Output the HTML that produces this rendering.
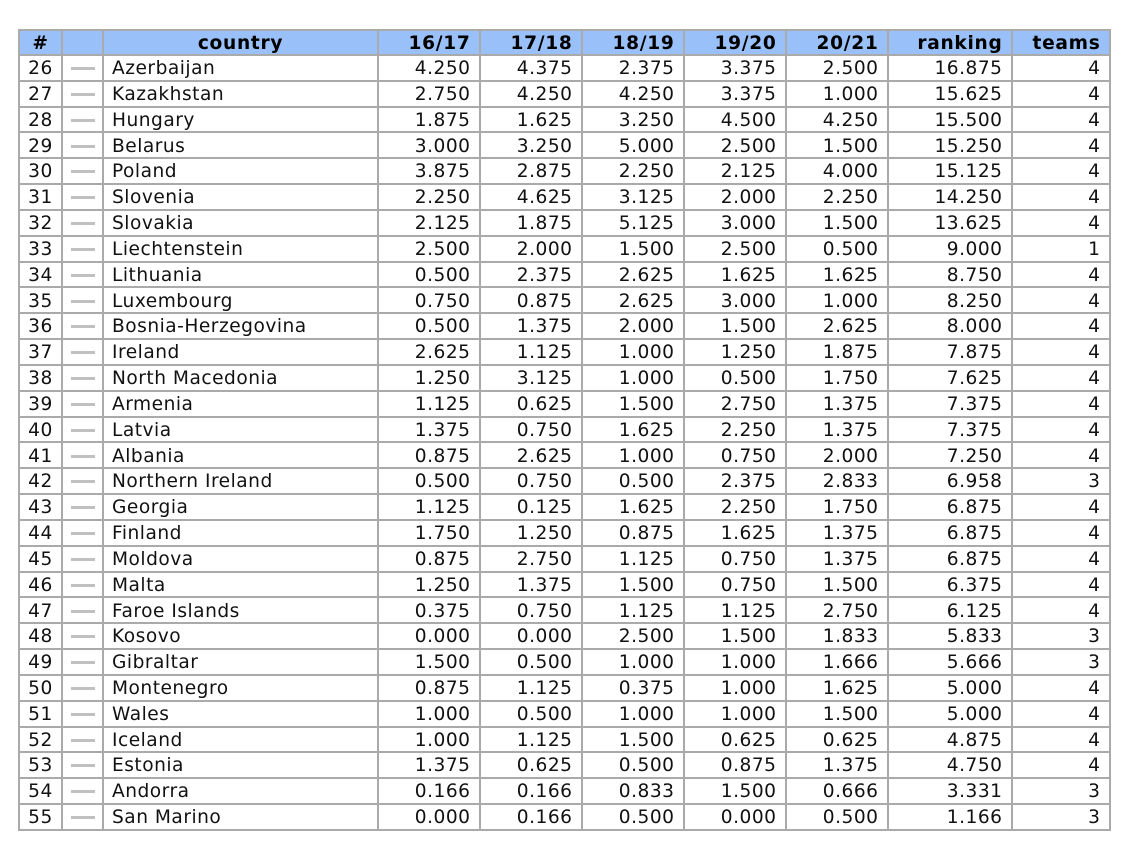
<!DOCTYPE html>
<html><head><meta charset="utf-8">
<style>
html,body{margin:0;padding:0;background:#fff;width:1125px;height:857px;overflow:hidden;}
table{position:absolute;left:18px;top:29px;border-collapse:collapse;table-layout:fixed;width:1093px;
font-family:"DejaVu Sans","Liberation Sans",sans-serif;font-size:18.6px;color:#111;border:2px solid #aaa;letter-spacing:0.5px;}
td,th{border:2px solid #aaa;padding:3px 8.5px 0 0;line-height:1;white-space:nowrap;overflow:hidden;text-align:right;vertical-align:middle;}
th{background:#99c0f8;font-weight:bold;color:#000;letter-spacing:0.7px;}
tr{height:25.83px;}
tr.h{height:25px;}
td.n,th.n{text-align:center;padding:3px 0 0 0;}
td.i{padding:0;text-align:center;}
td.i span{display:inline-block;width:24px;height:3px;background:#c0c0c0;vertical-align:middle;position:relative;top:1.5px;}
td.c{text-align:left;padding:3px 0 0 8px;}
th.c{text-align:center;padding:3px 0 0 0;}
</style></head><body>
<table>
<colgroup><col style="width:43px"><col style="width:41px"><col style="width:275px"><col style="width:102px"><col style="width:102px"><col style="width:102px"><col style="width:102px"><col style="width:102px"><col style="width:124px"><col style="width:98px"></colgroup>
<tr class="h"><th class="n">#</th><th></th><th class="c">country</th><th>16/17</th><th>17/18</th><th>18/19</th><th>19/20</th><th>20/21</th><th>ranking</th><th>teams</th></tr>
<tr><td class="n">26</td><td class="i"><span></span></td><td class="c">Azerbaijan</td><td>4.250</td><td>4.375</td><td>2.375</td><td>3.375</td><td>2.500</td><td>16.875</td><td>4</td></tr>
<tr><td class="n">27</td><td class="i"><span></span></td><td class="c">Kazakhstan</td><td>2.750</td><td>4.250</td><td>4.250</td><td>3.375</td><td>1.000</td><td>15.625</td><td>4</td></tr>
<tr><td class="n">28</td><td class="i"><span></span></td><td class="c">Hungary</td><td>1.875</td><td>1.625</td><td>3.250</td><td>4.500</td><td>4.250</td><td>15.500</td><td>4</td></tr>
<tr><td class="n">29</td><td class="i"><span></span></td><td class="c">Belarus</td><td>3.000</td><td>3.250</td><td>5.000</td><td>2.500</td><td>1.500</td><td>15.250</td><td>4</td></tr>
<tr><td class="n">30</td><td class="i"><span></span></td><td class="c">Poland</td><td>3.875</td><td>2.875</td><td>2.250</td><td>2.125</td><td>4.000</td><td>15.125</td><td>4</td></tr>
<tr><td class="n">31</td><td class="i"><span></span></td><td class="c">Slovenia</td><td>2.250</td><td>4.625</td><td>3.125</td><td>2.000</td><td>2.250</td><td>14.250</td><td>4</td></tr>
<tr><td class="n">32</td><td class="i"><span></span></td><td class="c">Slovakia</td><td>2.125</td><td>1.875</td><td>5.125</td><td>3.000</td><td>1.500</td><td>13.625</td><td>4</td></tr>
<tr><td class="n">33</td><td class="i"><span></span></td><td class="c">Liechtenstein</td><td>2.500</td><td>2.000</td><td>1.500</td><td>2.500</td><td>0.500</td><td>9.000</td><td>1</td></tr>
<tr><td class="n">34</td><td class="i"><span></span></td><td class="c">Lithuania</td><td>0.500</td><td>2.375</td><td>2.625</td><td>1.625</td><td>1.625</td><td>8.750</td><td>4</td></tr>
<tr><td class="n">35</td><td class="i"><span></span></td><td class="c">Luxembourg</td><td>0.750</td><td>0.875</td><td>2.625</td><td>3.000</td><td>1.000</td><td>8.250</td><td>4</td></tr>
<tr><td class="n">36</td><td class="i"><span></span></td><td class="c">Bosnia-Herzegovina</td><td>0.500</td><td>1.375</td><td>2.000</td><td>1.500</td><td>2.625</td><td>8.000</td><td>4</td></tr>
<tr><td class="n">37</td><td class="i"><span></span></td><td class="c">Ireland</td><td>2.625</td><td>1.125</td><td>1.000</td><td>1.250</td><td>1.875</td><td>7.875</td><td>4</td></tr>
<tr><td class="n">38</td><td class="i"><span></span></td><td class="c">North Macedonia</td><td>1.250</td><td>3.125</td><td>1.000</td><td>0.500</td><td>1.750</td><td>7.625</td><td>4</td></tr>
<tr><td class="n">39</td><td class="i"><span></span></td><td class="c">Armenia</td><td>1.125</td><td>0.625</td><td>1.500</td><td>2.750</td><td>1.375</td><td>7.375</td><td>4</td></tr>
<tr><td class="n">40</td><td class="i"><span></span></td><td class="c">Latvia</td><td>1.375</td><td>0.750</td><td>1.625</td><td>2.250</td><td>1.375</td><td>7.375</td><td>4</td></tr>
<tr><td class="n">41</td><td class="i"><span></span></td><td class="c">Albania</td><td>0.875</td><td>2.625</td><td>1.000</td><td>0.750</td><td>2.000</td><td>7.250</td><td>4</td></tr>
<tr><td class="n">42</td><td class="i"><span></span></td><td class="c">Northern Ireland</td><td>0.500</td><td>0.750</td><td>0.500</td><td>2.375</td><td>2.833</td><td>6.958</td><td>3</td></tr>
<tr><td class="n">43</td><td class="i"><span></span></td><td class="c">Georgia</td><td>1.125</td><td>0.125</td><td>1.625</td><td>2.250</td><td>1.750</td><td>6.875</td><td>4</td></tr>
<tr><td class="n">44</td><td class="i"><span></span></td><td class="c">Finland</td><td>1.750</td><td>1.250</td><td>0.875</td><td>1.625</td><td>1.375</td><td>6.875</td><td>4</td></tr>
<tr><td class="n">45</td><td class="i"><span></span></td><td class="c">Moldova</td><td>0.875</td><td>2.750</td><td>1.125</td><td>0.750</td><td>1.375</td><td>6.875</td><td>4</td></tr>
<tr><td class="n">46</td><td class="i"><span></span></td><td class="c">Malta</td><td>1.250</td><td>1.375</td><td>1.500</td><td>0.750</td><td>1.500</td><td>6.375</td><td>4</td></tr>
<tr><td class="n">47</td><td class="i"><span></span></td><td class="c">Faroe Islands</td><td>0.375</td><td>0.750</td><td>1.125</td><td>1.125</td><td>2.750</td><td>6.125</td><td>4</td></tr>
<tr><td class="n">48</td><td class="i"><span></span></td><td class="c">Kosovo</td><td>0.000</td><td>0.000</td><td>2.500</td><td>1.500</td><td>1.833</td><td>5.833</td><td>3</td></tr>
<tr><td class="n">49</td><td class="i"><span></span></td><td class="c">Gibraltar</td><td>1.500</td><td>0.500</td><td>1.000</td><td>1.000</td><td>1.666</td><td>5.666</td><td>3</td></tr>
<tr><td class="n">50</td><td class="i"><span></span></td><td class="c">Montenegro</td><td>0.875</td><td>1.125</td><td>0.375</td><td>1.000</td><td>1.625</td><td>5.000</td><td>4</td></tr>
<tr><td class="n">51</td><td class="i"><span></span></td><td class="c">Wales</td><td>1.000</td><td>0.500</td><td>1.000</td><td>1.000</td><td>1.500</td><td>5.000</td><td>4</td></tr>
<tr><td class="n">52</td><td class="i"><span></span></td><td class="c">Iceland</td><td>1.000</td><td>1.125</td><td>1.500</td><td>0.625</td><td>0.625</td><td>4.875</td><td>4</td></tr>
<tr><td class="n">53</td><td class="i"><span></span></td><td class="c">Estonia</td><td>1.375</td><td>0.625</td><td>0.500</td><td>0.875</td><td>1.375</td><td>4.750</td><td>4</td></tr>
<tr><td class="n">54</td><td class="i"><span></span></td><td class="c">Andorra</td><td>0.166</td><td>0.166</td><td>0.833</td><td>1.500</td><td>0.666</td><td>3.331</td><td>3</td></tr>
<tr><td class="n">55</td><td class="i"><span></span></td><td class="c">San Marino</td><td>0.000</td><td>0.166</td><td>0.500</td><td>0.000</td><td>0.500</td><td>1.166</td><td>3</td></tr>
</table>
</body></html>
